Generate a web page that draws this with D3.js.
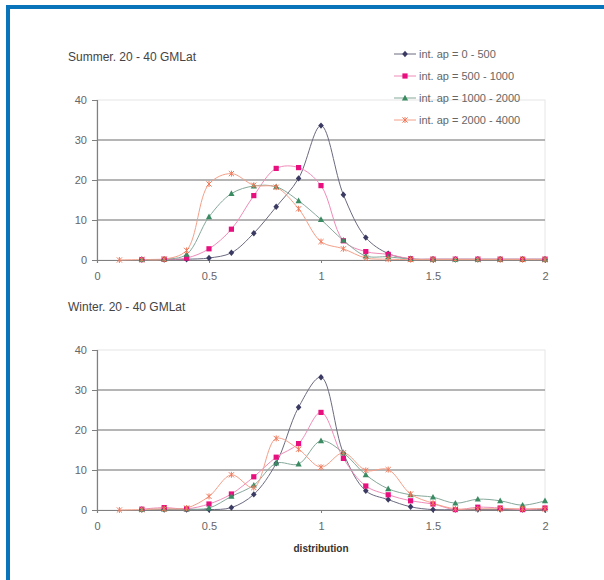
<!DOCTYPE html>
<html><head><meta charset="utf-8">
<script src="https://cdn.jsdelivr.net/npm/d3@7"></script>
<style>body{margin:0;background:#fff;} svg{display:block;font-family:"Liberation Sans",Arial,sans-serif;}</style>
</head><body>
<script>
const xFrom02 = [0.2,0.3,0.4,0.5,0.6,0.7,0.8,0.9,1.0,1.1,1.2,1.3,1.4,1.5,1.6,1.7,1.8,1.9,2.0];
const xFrom01 = [0.1,0.2,0.3,0.4,0.5,0.6,0.7,0.8,0.9,1.0,1.1,1.2,1.3,1.4,1.5,1.6,1.7,1.8,1.9,2.0];
const seriesNames = ["int. ap = 0 - 500","int. ap = 500 - 1000","int. ap = 1000 - 2000","int. ap = 2000 - 4000"];
const xTicks = [0,0.5,1,1.5,2];
const yTicks = [0,10,20,30,40];
const panelTitles = ["Summer. 20 - 40 GMLat","Winter. 20 - 40 GMLat"];
const xAxisTitle = "distribution";

const summerS1 = [0.1,0.1,0.2,0.5,1.8,6.7,13.3,20.4,33.6,16.3,5.6,1.6,0.3,0.2,0.2,0.2,0.2,0.2,0.2];
const summerS2 = [0.1,0.2,0.5,2.8,7.7,16.1,22.9,23.1,18.6,4.8,2.1,1.4,0.3,0.2,0.2,0.2,0.2,0.2,0.2];
const summerS3 = [0.1,0.2,1.4,10.8,16.6,18.5,18.3,14.8,10.1,4.9,1.0,0.8,0.2,0.1,0.1,0.1,0.1,0.1,0.1];
const summerS4 = [0,0.1,0.2,2.4,19.0,21.6,18.7,18.2,12.8,4.6,2.8,0.5,0.2,0.1,0.1,0.1,0.1,0.1,0.1,0.1];

const winterS1 = [0.1,0.1,0.1,0.1,0.6,3.9,11.7,25.7,33.2,14.2,4.8,2.6,0.8,0.1,0.1,0.1,0.1,0.1,0.1];
const winterS2 = [0.2,0.6,0.3,1.5,4.0,8.3,13.2,16.6,24.4,12.9,6.0,3.8,2.3,1.5,0.1,0.7,0.5,0.1,0.5];
const winterS3 = [0.1,0.2,0.2,0.5,3.4,6.2,11.7,11.5,17.3,14.3,8.8,5.3,3.8,3.2,1.7,2.7,2.3,1.2,2.3];
const winterS4 = [0,0.1,0.3,0.5,3.4,8.8,5.6,17.9,15.2,10.7,14.3,9.9,10.1,4.0,1.7,0.3,0.3,0.3,0.3,0.3];

const styles = [
  {line:"#6a6a80", mark:"#3a3a62", shape:"diamond"},
  {line:"#f08cb8", mark:"#e8107f", shape:"square"},
  {line:"#86a89a", mark:"#3a8a62", shape:"triangle"},
  {line:"#f4a08a", mark:"#f07a5c", shape:"star"}
];

const W=604,H=580;
const svg=d3.select("body").append("svg").attr("width",W).attr("height",H);

// frame
svg.append("rect").attr("x",6).attr("y",5).attr("width",W-6).attr("height",4).attr("fill","#0a74ba");
svg.append("rect").attr("x",6).attr("y",5).attr("width",4).attr("height",H-5).attr("fill","#0a74ba");

const x = d3.scaleLinear().domain([0,2]).range([97,545]);

function panel(top, title, data){
  const y = d3.scaleLinear().domain([0,40]).range([top+160, top]);
  const g = svg.append("g");
  g.append("text").attr("x",68).attr("y",top-39).attr("font-size",12).attr("fill","#444").text(title);
  g.append("rect").attr("x",x(0)).attr("y",y(40)).attr("width",x(2)-x(0)).attr("height",y(0)-y(40))
    .attr("fill","none").attr("stroke","#e6e6e6").attr("stroke-width",1);
  g.selectAll(".grid").data(yTicks.filter(d=>d>0 && d<40)).enter().append("line")
    .attr("x1",x(0)).attr("x2",x(2)).attr("y1",d=>y(d)).attr("y2",d=>y(d))
    .attr("stroke","#9c9c9c").attr("stroke-width",1.6);
  const ya = g.append("g").attr("transform",`translate(${x(0)},0)`)
    .call(d3.axisLeft(y).tickValues(yTicks).tickSize(5).tickFormat(d3.format("d")));
  ya.select(".domain").attr("stroke","#808080").attr("stroke-width",1.2);
  ya.selectAll(".tick line").attr("stroke","#808080");
  ya.selectAll("text").attr("font-size",11).attr("fill","#666").attr("font-family","Liberation Sans, Arial, sans-serif").attr("dx",-2);
  const xa = g.append("g").attr("transform",`translate(0,${y(0)})`)
    .call(d3.axisBottom(x).tickValues(xTicks).tickSize(3).tickFormat(d=>String(d)));
  xa.select(".domain").attr("stroke","#808080").attr("stroke-width",1.2);
  xa.selectAll(".tick line").attr("stroke","#808080");
  xa.selectAll("text").attr("font-size",11).attr("fill","#666").attr("font-family","Liberation Sans, Arial, sans-serif").attr("dy","1.3em");

  const line = d3.line().x(d=>x(d[0])).y(d=>y(d[1])).curve(d3.curveCatmullRom.alpha(0.5));
  data.forEach((s,i)=>{
    const pts = s.xs.map((xv,j)=>[xv,s.vals[j]]);
    g.append("path").datum(pts).attr("d",line).attr("fill","none").attr("stroke",styles[i].line).attr("stroke-width",1);
  });
  data.forEach((s,i)=>{
    const pts = s.xs.map((xv,j)=>[xv,s.vals[j]]);
    drawMarkers(g, pts.map(p=>[x(p[0]),y(p[1])]), styles[i]);
  });
}

function drawMarker(g, cx, cy, st){
  if(st.shape==="diamond"){
    g.append("path").attr("d",`M${cx},${cy-3.2}L${cx+2.8},${cy}L${cx},${cy+3.2}L${cx-2.8},${cy}Z`).attr("fill",st.mark);
  } else if(st.shape==="square"){
    g.append("rect").attr("x",cx-2.6).attr("y",cy-2.6).attr("width",5.2).attr("height",5.2).attr("fill",st.mark);
  } else if(st.shape==="triangle"){
    g.append("path").attr("d",`M${cx},${cy-3.3}L${cx+3.1},${cy+2.4}L${cx-3.1},${cy+2.4}Z`).attr("fill",st.mark);
  } else {
    g.append("path").attr("d",`M${cx-2.6},${cy-2.6}L${cx+2.6},${cy+2.6}M${cx+2.6},${cy-2.6}L${cx-2.6},${cy+2.6}M${cx},${cy-3}L${cx},${cy+3}`)
      .attr("stroke",st.mark).attr("stroke-width",1).attr("fill","none");
  }
}
function drawMarkers(g, pts, st){ pts.forEach(p=>drawMarker(g,p[0],p[1],st)); }

panel(100, panelTitles[0], [
  {xs:xFrom02, vals:summerS1},{xs:xFrom02, vals:summerS2},{xs:xFrom02, vals:summerS3},{xs:xFrom01, vals:summerS4}
]);
panel(350, panelTitles[1], [
  {xs:xFrom02, vals:winterS1},{xs:xFrom02, vals:winterS2},{xs:xFrom02, vals:winterS3},{xs:xFrom01, vals:winterS4}
]);

svg.append("text").attr("x",x(1)).attr("y",552).attr("text-anchor","middle").attr("font-size",10)
  .attr("font-weight","bold").attr("fill","#333").text(xAxisTitle);

const lg = svg.append("g");
seriesNames.forEach((n,i)=>{
  const ly = 54 + i*22;
  lg.append("line").attr("x1",394).attr("x2",416).attr("y1",ly).attr("y2",ly).attr("stroke",styles[i].line).attr("stroke-width",1);
  drawMarker(lg,405,ly,styles[i]);
  lg.append("text").attr("x",419).attr("y",ly+4).attr("font-size",11).attr("fill","#666").text(n);
});
</script>
</body></html>
